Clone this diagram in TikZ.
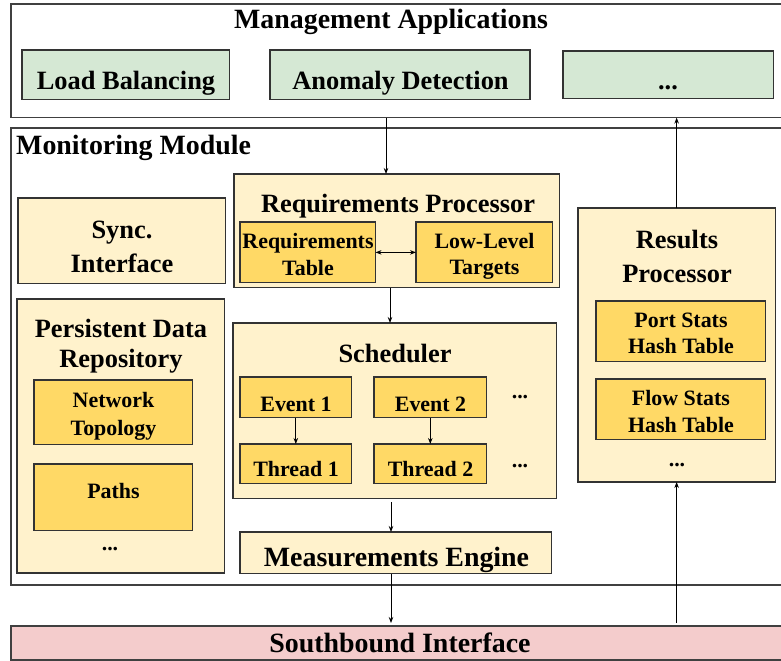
\documentclass[tikz,border=0pt]{standalone}
\usepackage{fontspec}
\setmainfont{Liberation Serif}
\usetikzlibrary{arrows.meta,calc}
\definecolor{lightyel}{HTML}{FFF2CC}
\definecolor{darkyel}{HTML}{FFD966}
\definecolor{appgreen}{HTML}{D5E8D4}
\definecolor{sbpink}{HTML}{F4CCCC}
\definecolor{edge}{HTML}{333333}
\definecolor{frame}{HTML}{404040}
\newcommand{\fbig}{\fontsize{28}{32}\selectfont\bfseries}
\newcommand{\fmid}[1][31]{\fontsize{26.5}{#1}\selectfont\bfseries}
\newcommand{\fsmall}[1][27]{\fontsize{22}{#1}\selectfont\bfseries}
\tikzset{
  boxat/.style n args={4}{anchor=north west, minimum width=#3-#1, minimum height=#4-#2, inner sep=0pt, outer sep=0pt},
  framebox/.style={draw=frame, line width=1.6bp, fill=white},
  appbox/.style={draw=edge, line width=1.2bp, fill=appgreen},
  outerbox/.style={draw=edge, line width=1.2bp, fill=lightyel},
  innerbox/.style={draw=edge, line width=1.2bp, fill=darkyel},
  sbbox/.style={draw=frame, line width=1.6bp, fill=sbpink},
  txt/.style={inner sep=0pt, align=center, anchor=base},
  arr/.style={draw=black, line width=0.9bp, -{Stealth[length=6bp,width=4.5bp]}},
  dblarr/.style={draw=black, line width=0.9bp, {Stealth[length=6bp,width=4.5bp]}-{Stealth[length=6bp,width=4.5bp]}}
}
\begin{document}
\begin{tikzpicture}[x=1bp,y=-1bp]
\useasboundingbox (0,0) rectangle (781,661);
\clip (0,0) rectangle (781,661);
% Management applications
\node[framebox, boxat={11}{4}{792}{118}] (mgmt) at (11,4) {};
\node[txt, font=\fbig] (mgmttitle) at (391,29) {Management Applications};
\node[appbox, boxat={22}{50}{230}{100}] (lb) at (22,50) {};
\node[txt, font=\fmid] (lbtext) at (126,90) {Load Balancing};
\node[appbox, boxat={270}{50}{531}{100}] (ad) at (270,50) {};
\node[txt, font=\fmid] (adtext) at (400.5,90) {Anomaly Detection};
\node[appbox, boxat={563}{51}{774}{99}] (more) at (563,51) {};
\node[txt, font=\fmid] (moretext) at (668,90) {...};
% Monitoring module
\node[framebox, boxat={11}{128}{792}{587}] (mon) at (11,128) {};
\node[inner sep=0pt, font=\fbig, anchor=base west] (montitle) at (16,155) {Monitoring Module};
% Sync
\node[outerbox, boxat={18}{198}{226}{284}] (sync) at (18,198) {};
\node[txt, font={\fmid[34]}] (synctext) at (122,272) {Sync.\\Interface};
% Persistent
\node[outerbox, boxat={17}{299}{225}{574}] (pers) at (17,299) {};
\node[txt, font={\fmid[30]}] (perstitle) at (121,367) {Persistent Data\\Repository};
\node[innerbox, boxat={34}{380}{193}{445}] (topo) at (34,380) {};
\node[txt, font={\fsmall[28]}] (topotext) at (113.5,435) {Network\\Topology};
\node[innerbox, boxat={34}{464}{193}{531}] (paths) at (34,464) {};
\node[txt, font=\fsmall] (pathstext) at (113.5,498) {Paths};
\node[txt, font=\fsmall] (persdots) at (110,550) {...};
% Requirements processor
\node[outerbox, boxat={234}{174}{561}{288}] (reqproc) at (234,174) {};
\node[txt, font=\fmid] (reqtitle) at (398,212) {Requirements Processor};
\node[innerbox, boxat={240}{222}{376}{283}] (reqtab) at (240,222) {};
\node[txt, font={\fsmall[27]}] (reqtabtext) at (308,275) {Requirements\\Table};
\node[innerbox, boxat={416}{222}{553}{283}] (llt) at (416,222) {};
\node[txt, font={\fsmall[26]}] (llttext) at (484.5,274) {Low-Level\\Targets};
% Scheduler
\node[outerbox, boxat={233}{323}{558}{499}] (sched) at (233,323) {};
\node[txt, font=\fmid] (schedtitle) at (395,362) {Scheduler};
\node[innerbox, boxat={240}{377}{352}{418}] (ev1) at (240,377) {};
\node[txt, font=\fsmall] (ev1text) at (296,411) {Event 1};
\node[innerbox, boxat={374}{377}{487}{418}] (ev2) at (374,377) {};
\node[txt, font=\fsmall] (ev2text) at (430.5,411) {Event 2};
\node[innerbox, boxat={240}{444}{352}{484}] (th1) at (240,444) {};
\node[txt, font=\fsmall] (th1text) at (296,476) {Thread 1};
\node[innerbox, boxat={374}{444}{487}{484}] (th2) at (374,444) {};
\node[txt, font=\fsmall] (th2text) at (430.5,476) {Thread 2};
\node[txt, font=\fsmall] (evdots) at (520,398) {...};
\node[txt, font=\fsmall] (thdots) at (520,467) {...};
% Measurements engine
\node[outerbox, boxat={240}{532}{553}{574}] (me) at (240,532) {};
\node[txt, font=\fbig] (metext) at (396.5,566) {Measurements Engine};
% Results processor
\node[outerbox, boxat={578}{208}{776}{483}] (res) at (578,208) {};
\node[txt, font={\fmid[34]}] (restitle) at (677,282) {Results\\Processor};
\node[innerbox, boxat={596}{301}{766}{362}] (port) at (596,301) {};
\node[txt, font={\fsmall[26]}] (porttext) at (681,353) {Port Stats\\Hash Table};
\node[innerbox, boxat={596}{379}{766}{440}] (flow) at (596,379) {};
\node[txt, font={\fsmall[27]}] (flowtext) at (681,432) {Flow Stats\\Hash Table};
\node[txt, font=\fsmall] (resdots) at (677,466) {...};
% Southbound
\node[sbbox, boxat={11}{626}{792}{660}] (south) at (11,626) {};
\node[txt, font=\fbig] (southtitle) at (400,652) {Southbound Interface};
% guide coordinates for connector columns
\coordinate (cola) at (386,0);
\coordinate (colb) at (390,0);
\coordinate (colc) at (391,0);
% connectors
\draw[arr] (mgmt.south -| cola) -- (reqproc.north -| cola);
\draw[arr] (res.north) -- (mgmt.south -| res.north);
\draw[dblarr] (reqtab.east) -- (llt.west);
\draw[arr] (reqproc.south -| colb) -- (sched.north -| colb);
\draw[arr] (ev1.south) -- (th1.north);
\draw[arr] (ev2.south) -- (th2.north);
\draw[arr] ($(sched.south -| colc)+(0,4)$) -- (me.north -| colc);
\draw[arr] (me.south -| colc) -- ($(south.north -| colc)+(0,-3)$);
\draw[arr] ($(south.north -| res.south)+(0,-3)$) -- (res.south);
\end{tikzpicture}
\end{document}
